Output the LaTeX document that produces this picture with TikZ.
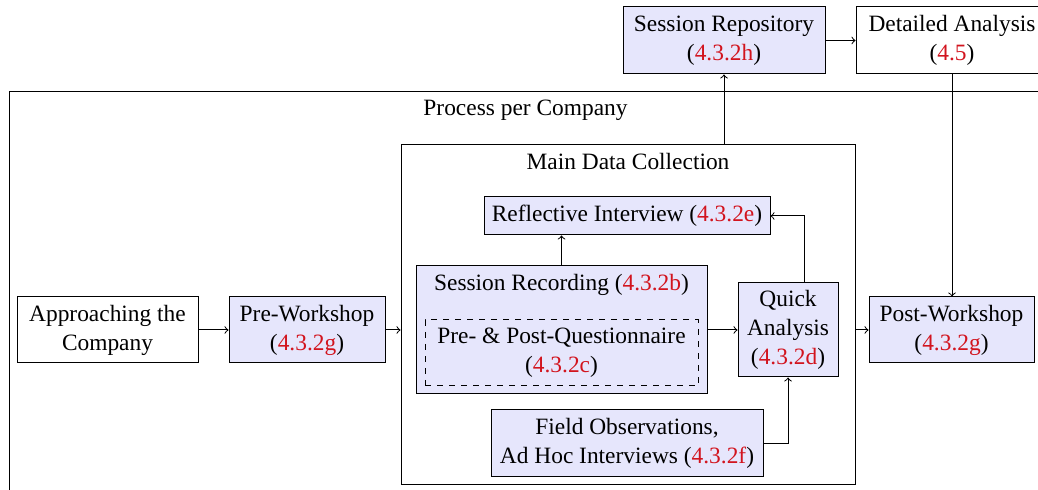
\documentclass[tikz,border=0pt]{standalone}
\usepackage{fontspec}
\setmainfont{Liberation Serif}
\usetikzlibrary{positioning}

\definecolor{refred}{RGB}{210,20,30}
\definecolor{boxblue}{RGB}{230,230,252}
\newcommand{\secref}[1]{\textcolor{refred}{#1}}

\begin{document}
\begin{tikzpicture}[x=0.5pt, y=-0.5pt, line width=0.5pt,
        every node/.style={font=\fontsize{11.7}{14.5}\selectfont},
        stage/.style={draw, align=center, inner sep=1pt},
        stagefill/.style={stage, fill=boxblue}]
        \clip (0,0) rectangle (1038,490);

        % outer frames
        \node[draw, anchor=north west, minimum width=516pt, minimum height=215pt] (company) at (9,91) {};
        \node[below=1pt of company.north] (companytitle) {Process per Company};
        \node[draw, minimum width=227pt, minimum height=170pt] (main) at (628,315) {};
        \node[below=1pt of main.north] (maintitle) {Main Data Collection};

        % stages
        \node[stage, minimum width=90.5pt, minimum height=33pt] (appr) at (107.5,330) {Approaching the\\Company};
        \node[stagefill, minimum width=78pt, minimum height=33pt] (pre) at (307,330) {Pre-Workshop\\(\secref{4.3.2g})};
        \node[stagefill, minimum width=145.5pt, minimum height=64pt] (rec) at (561.5,330) {};
        \node[below=1pt of rec.north] (rectitle) {Session Recording (\secref{4.3.2b})};
        \node[stage, dashed, minimum width=136.5pt, minimum height=33pt] (quest) at (561.5,353) {Pre- \& Post-Questionnaire\\(\secref{4.3.2c})};
        \node[stagefill, minimum width=143pt, minimum height=19pt] (refl) at (627,216) {Reflective Interview (\secref{4.3.2e})};
        \node[stagefill, minimum width=50pt, minimum height=47pt] (quick) at (788,330) {Quick\\Analysis\\(\secref{4.3.2d})};
        \node[stagefill, minimum width=136pt, minimum height=33.5pt] (field) at (627,443.5) {Field Observations,\\Ad Hoc Interviews (\secref{4.3.2f})};
        \node[stagefill, minimum width=82.5pt, minimum height=33pt] (post) at (951.5,330) {Post-Workshop\\(\secref{4.3.2g})};
        \node[stagefill, minimum width=101pt, minimum height=33.5pt] (repo) at (724,40.5) {Session Repository\\(\secref{4.3.2h})};
        \node[stage, minimum width=96pt, minimum height=33.5pt] (detail) at (952,40.5) {Detailed Analysis\\(\secref{4.5})};

        % connections
        \draw[->] (appr) -- (pre);
        \draw[->] (pre.east) -- (pre.east -| main.west);
        \draw[->] (rec.north) -- (rec.north |- refl.south);
        \draw[->] (rec.east |- quick.west) -- (quick.west);
        \draw[->] ([xshift=8pt]quick.north) |- (refl.east);
        \draw[->] (field.east) -| (quick.south);
        \draw[->] (main.east |- post.west) -- (post.west);
        \draw[->] (main.north -| repo.south) -- (repo.south);
        \draw[->] (repo) -- (detail);
        \draw[->] (detail.south) -- (detail.south |- post.north);
\end{tikzpicture}
\end{document}
